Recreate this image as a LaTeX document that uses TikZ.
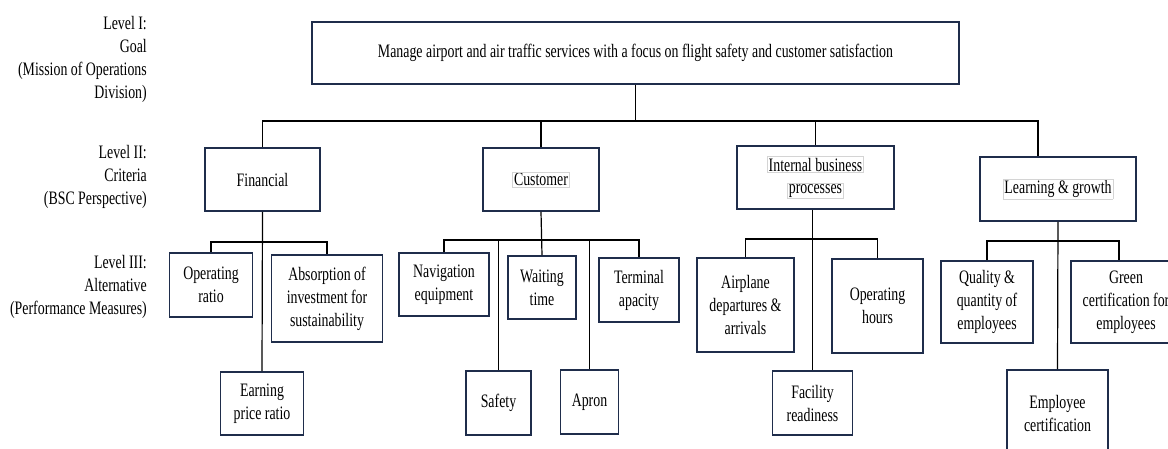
\documentclass[tikz,border=0pt]{standalone}
\usepackage{fontspec}
\setmainfont{Liberation Serif}[FakeStretch=0.73]
\definecolor{boxline}{RGB}{31,45,75}
\definecolor{textframe}{RGB}{212,212,212}
\newcommand{\framedtext}[1]{{\setlength{\fboxsep}{1pt}\setlength{\fboxrule}{0.6pt}\fcolorbox{textframe}{white}{#1}}}
\tikzstyle{box}=[draw=boxline, line width=1.6pt, inner sep=0pt, align=center]
\tikzstyle{link}=[line width=1.2pt, black]
\tikzset{level/.style={anchor=east, align=right, inner sep=0pt}}

\begin{document}
\begin{tikzpicture}[x=1pt, y=-1pt, font=\fontsize{19}{23}\selectfont]
  \useasboundingbox (0,0) rectangle (1168,448);

  %% Level labels
  \draw (147,59) node[level] (L1) {Level I:\\Goal\\(Mission of Operations\\Division)};
  \draw (147,177) node[level] (L2) {Level II:\\Criteria\\(BSC Perspective)};
  \draw (147,287) node[level] (L3) {Level III:\\Alternative\\(Performance Measures)};

  %% Goal
  \draw (635.5,53) node[box,minimum width=647pt,minimum height=62pt] (goal) {Manage airport and air traffic services with a focus on flight safety and customer satisfaction};

  %% Criteria
  \draw (262.5,179.5) node[box,minimum width=115pt,minimum height=63pt] (fin) {Financial};
  \draw (541,179.5) node[box,minimum width=116pt,minimum height=63pt] (cust) {\framedtext{Customer}};
  \draw (815.5,177.5) node[box,minimum width=157pt,minimum height=63pt] (intl) {\framedtext{Internal business}\\[-1pt]\framedtext{processes}};
  \draw (1058,189) node[box,minimum width=156pt,minimum height=64pt] (learn) {\framedtext{Learning \& growth}};

  %% Alternatives
  \draw (211,285) node[box,minimum width=83pt,minimum height=64pt] (opr) {Operating\\ratio};
  \draw (327,298.5) node[box,minimum width=111pt,minimum height=87pt] (abs) {Absorption of\\investment for\\sustainability};
  \draw (262,403.5) node[box,minimum width=83pt,minimum height=63pt] (earn) {Earning\\price ratio};

  \draw (444,284.5) node[box,minimum width=90pt,minimum height=63pt] (nav) {Navigation\\equipment};
  \draw (498.5,403) node[box,minimum width=65pt,minimum height=64pt] (saf) {Safety};
  \draw (542,287.5) node[box,minimum width=68pt,minimum height=63pt] (wait) {Waiting\\time};
  \draw (589.5,402) node[box,minimum width=58pt,minimum height=64pt] (apr) {Apron};
  \draw (639,290) node[box,minimum width=80pt,minimum height=64pt] (term) {Terminal\\apacity};

  \draw (745.5,305) node[box,minimum width=97pt,minimum height=94pt] (air) {Airplane\\departures \&\\arrivals};
  \draw (877.5,306) node[box,minimum width=91pt,minimum height=94pt] (oph) {Operating\\hours};
  \draw (812.5,403) node[box,minimum width=80pt,minimum height=64pt] (fac) {Facility\\readiness};

  \draw (987,302) node[box,minimum width=92pt,minimum height=82pt] (qual) {Quality \&\\quantity of\\employees};
  \draw (1126,302) node[box,minimum width=110pt,minimum height=82pt] (green) {Green\\certification for\\employees};
  \draw (1057.5,413) node[box,minimum width=101pt,minimum height=86pt] (emp) {Employee\\certification};

  %% Goal to criteria
  \coordinate (topbar) at (0,121);
  \coordinate (learnin) at ([xshift=-20pt]learn.north);
  \draw[link] (goal.south) -- (goal.south |- topbar);
  \draw[link] (fin.north) -- (fin.north |- topbar) -- (learnin |- topbar) -- (learnin);
  \draw[link] (cust.north) -- (cust.north |- topbar);
  \draw[link] (intl.north) -- (intl.north |- topbar);

  %% Financial
  \coordinate (finbar) at (0,242);
  \draw[link] (fin.south) -- (earn.north);
  \draw[link] (opr.north) -- (opr.north |- finbar) -- (abs.north |- finbar) -- (abs.north);

  %% Customer
  \coordinate (custbar) at (0,240);
  \draw[link] (cust.south) -- (wait.north);
  \draw[link] (nav.north) -- (nav.north |- custbar) -- (term.north |- custbar) -- (term.north);
  \draw[link] (saf.north) -- (saf.north |- custbar);
  \draw[link] (apr.north) -- (apr.north |- custbar);

  %% Internal business processes
  \coordinate (intbar) at (0,239);
  \draw[link] (fac.north |- intl.south) -- (fac.north);
  \draw[link] (air.north) -- (air.north |- intbar) -- (oph.north |- intbar) -- (oph.north);

  %% Learning & growth
  \coordinate (lrnbar) at (0,241);
  \coordinate (greenin) at ([xshift=-7pt]green.north);
  \draw[link] (learn.south) -- (emp.north);
  \draw[link] (qual.north) -- (qual.north |- lrnbar) -- (greenin |- lrnbar) -- (greenin);
\end{tikzpicture}
\end{document}
